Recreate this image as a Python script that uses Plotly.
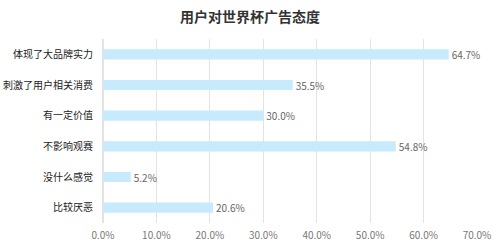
import plotly.graph_objects as go

categories = ["体现了大品牌实力", "刺激了用户相关消费", "有一定价值", "不影响观赛", "没什么感觉", "比较厌恶"]
values = [64.7, 35.5, 30.0, 54.8, 5.2, 20.6]
tick_vals = [0, 10, 20, 30, 40, 50, 60, 70]
tick_text = ["0.0%", "10.0%", "20.0%", "30.0%", "40.0%", "50.0%", "60.0%", "70.0%"]

fig = go.Figure(go.Bar(
    y=categories, x=values, orientation="h",
    marker=dict(color="#c7eafc", line=dict(width=0)),
    width=0.33,
    text=[f"{v:.1f}%" for v in values], textposition="outside",
    textfont=dict(size=10, color="#666666", family="Noto Sans CJK SC"),
    constraintext="none",
    cliponaxis=False,
))
fig.update_layout(
    width=500, height=250,
    margin=dict(l=103, r=23, t=39, b=27, autoexpand=False),
    paper_bgcolor="white", plot_bgcolor="white",
    title=dict(text="<b>用户对世界杯广告态度</b>", x=0.5, xanchor="center", y=0.93, yanchor="middle",
               font=dict(size=14, color="#333333", family="Noto Sans CJK SC")),
    font=dict(family="Noto Sans CJK SC"),
    showlegend=False,
    bargap=0.67,
)
fig.update_xaxes(range=[0, 70], tickvals=tick_vals, ticktext=tick_text,
                 showgrid=True, gridcolor="#e3e3e3", gridwidth=1, zeroline=True, zerolinecolor="#e3e3e3",
                 tickfont=dict(size=10, color="#777777"), ticks="", ticklabelstandoff=5,
                 showline=False, automargin=False)
fig.update_yaxes(categoryorder="array", categoryarray=categories, autorange="reversed",
                 tickfont=dict(size=10, color="#222222"), ticks="", ticklabelstandoff=9,
                 showgrid=False, automargin=False)
fig.write_html("out.html")
